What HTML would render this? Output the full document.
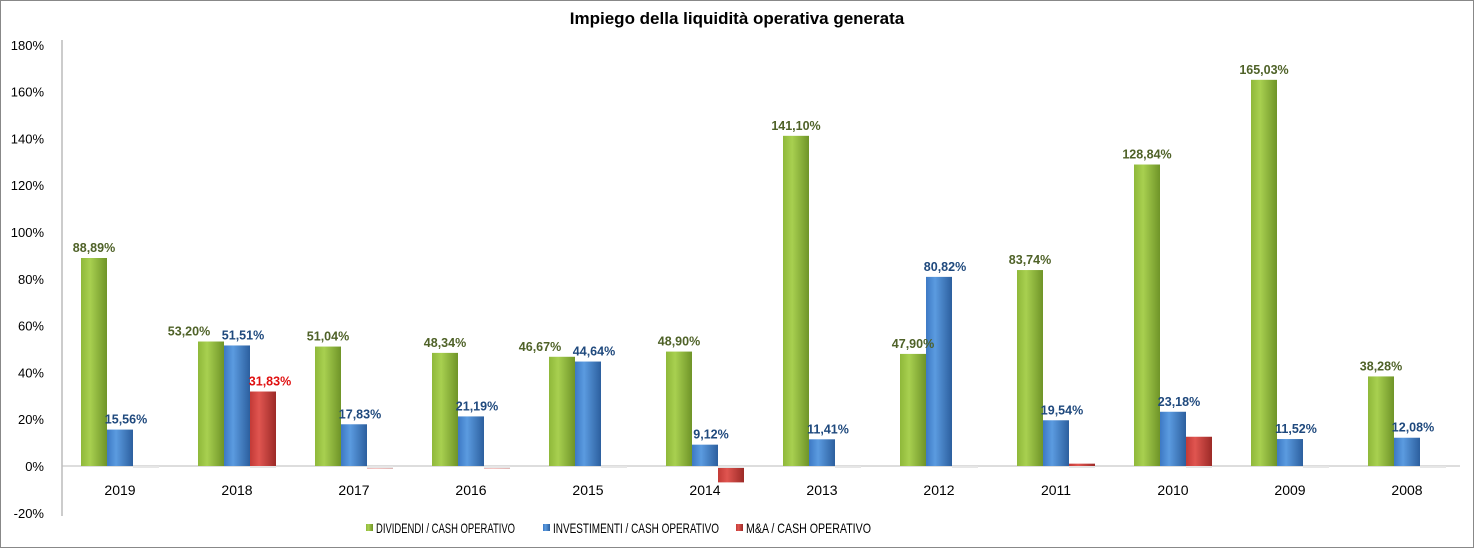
<!DOCTYPE html>
<html><head><meta charset="utf-8"><style>
html,body{margin:0;padding:0;background:#fff}
svg{display:block}
text{font-family:"Liberation Sans",sans-serif}
</style></head><body>
<svg id="c" width="1474" height="548" viewBox="0 0 1474 548" xmlns="http://www.w3.org/2000/svg">
<defs>
<linearGradient id="g" x1="0" x2="1" y1="0" y2="0"><stop offset="0" stop-color="#8fb83a"/><stop offset="0.35" stop-color="#a8d050"/><stop offset="1" stop-color="#6f9428"/></linearGradient>
<linearGradient id="b" x1="0" x2="1" y1="0" y2="0"><stop offset="0" stop-color="#3d79c4"/><stop offset="0.35" stop-color="#5b9be0"/><stop offset="1" stop-color="#2c5f9e"/></linearGradient>
<linearGradient id="r" x1="0" x2="1" y1="0" y2="0"><stop offset="0" stop-color="#c23a36"/><stop offset="0.35" stop-color="#e05550"/><stop offset="1" stop-color="#9c2a27"/></linearGradient>
</defs>
<rect x="0.5" y="0.5" width="1473" height="547" fill="#fff" stroke="#888"/>
<text x="737" y="24" text-anchor="middle" font-size="17" font-weight="bold">Impiego della liquidità operativa generata</text>
<g id="plot"></g>
</svg>
<script>
var p=document.getElementById('plot'),s='';
var y0=466,k=2.34;
function Y(v){return y0-v*k;}
for(var i=-1;i<=9;i++){var v=i*20,y=Y(v);
 s+='<text x="44" y="'+(y+5)+'" text-anchor="end" font-size="13">'+v+'%</text>';}
s+='<line x1="62" y1="40" x2="62" y2="516" stroke="#999"/>';
s+='<line x1="62" y1="466" x2="1460" y2="466" stroke="#bbb"/>';
var yrs=['2019','2018','2017','2016','2015','2014','2013','2012','2011','2010','2009','2008'];
var G=[88.89,53.20,51.04,48.34,46.67,48.90,141.10,47.90,83.74,128.84,165.03,38.28];
var B=[15.56,51.51,17.83,21.19,44.64,9.12,11.41,80.82,19.54,23.18,11.52,12.08];
var R=[0,31.83,-1,-1,0,-7,0,0,1,12.5,0,0];
function f(v){return v.toFixed(2).replace('.',',')+'%';}
for(var j=0;j<12;j++){
 var x=81+117*j;
 function bar(xx,v,fill){var a=Y(Math.max(v,0)),b2=Y(Math.min(v,0));
  s+='<rect x="'+xx+'" y="'+a+'" width="26" height="'+Math.max(b2-a,0.01)+'" fill="url(#'+fill+')"/>';}
 bar(x,G[j],'g');bar(x+26,B[j],'b');
 if(R[j]!==0)bar(x+52,R[j],'r');
 s+='<line x1="'+(x+52)+'" y1="467" x2="'+(x+78)+'" y2="467" stroke="#e6e6e6" stroke-width="2"/>';
 var gx=x+13;if(Math.abs(G[j]-B[j])<12)gx-=22;
 s+='<text x="'+gx+'" y="'+(Y(G[j])-6)+'" text-anchor="middle" font-size="12.5" font-weight="bold" fill="#4f6228">'+f(G[j])+'</text>';
 s+='<text x="'+(x+45)+'" y="'+(Y(B[j])-6)+'" text-anchor="middle" font-size="12.5" font-weight="bold" fill="#1f497d">'+f(B[j])+'</text>';
 if(j==1)s+='<text x="'+(x+72)+'" y="'+(Y(R[j])-6)+'" text-anchor="middle" font-size="12.5" font-weight="bold" fill="#e01010">'+f(R[j])+'</text>';
 s+='<text x="'+(x+39)+'" y="495" text-anchor="middle" font-size="14">'+yrs[j]+'</text>';
}
var L=[[366,'g','DIVIDENDI / CASH OPERATIVO',139],[543,'b','INVESTIMENTI / CASH OPERATIVO',166],[736,'r','M&amp;A / CASH OPERATIVO',125]];
L.forEach(function(l){s+='<rect x="'+l[0]+'" y="524" width="7" height="7" fill="url(#'+l[1]+')"/><text x="'+(l[0]+10)+'" y="533" font-size="14" textLength="'+l[3]+'" lengthAdjust="spacingAndGlyphs">'+l[2]+'</text>';});
p.innerHTML=s;
</script>
</body></html>
